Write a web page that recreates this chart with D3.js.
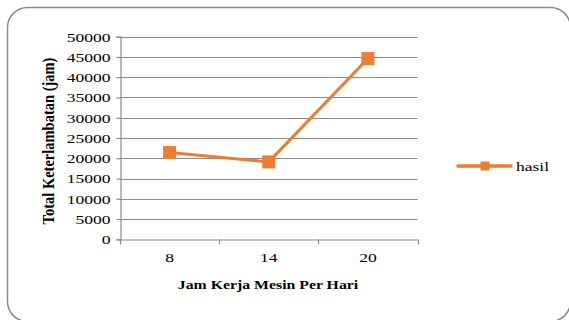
<!DOCTYPE html>
<html>
<head>
<meta charset="utf-8">
<script src="https://cdn.jsdelivr.net/npm/d3@7"></script>
<style>
	body { margin: 0; background: #fff; }
</style>
</head>
<body>
<div id="chart"></div>
<script>
var categories = ["8", "14", "20"]
var hasil = [21400, 19100, 44600]
var yTicks = [0, 5000, 10000, 15000, 20000, 25000, 30000, 35000, 40000, 45000, 50000]
var seriesName = "hasil"

var WIDTH = 569, HEIGHT = 320
var ORANGE = "#ED7D31", GRID = "#8c8c8c"
var FONT = '"Liberation Serif"'
var STRETCH = 1.3  // the picture is wider than the text's natural shape

var svg = d3.select("#chart").append("svg")
	.attr("width", WIDTH)
	.attr("height", HEIGHT)

// outer frame
svg.append("rect")
	.attr("x", 7.5).attr("y", 7.5)
	.attr("width", 563).attr("height", 314)
	.attr("rx", 20).attr("ry", 20)
	.attr("fill", "#fff")
	.attr("stroke", "#8a8a8a")
	.attr("stroke-width", 1.5)

var x = d3.scaleBand()
	.domain(categories)
	.range([120, 417.5])

var y = d3.scaleLinear()
	.domain([0, 50000])
	.range([239.3, 36.7])

// gridlines
svg.selectAll(".grid")
	.data(yTicks.slice(1))
	.enter()
	.append("line")
	.attr("x1", 120).attr("x2", 417.5)
	.attr("y1", function(d){ return Math.round(y(d)) + 0.5 })
	.attr("y2", function(d){ return Math.round(y(d)) + 0.5 })
	.attr("stroke", GRID)
	.attr("stroke-width", 1.2)

var yAxis = svg.append("g")
	.attr("transform", "translate(120.5,0)")
	.call(d3.axisLeft(y).tickValues(yTicks).tickSize(4).tickPadding(8).tickFormat(d3.format("d")))
yAxis.selectAll("line, path").attr("stroke", GRID).attr("stroke-width", 1.2)
yAxis.selectAll("text")
	.style("font-family", FONT)
	.style("font-size", "13.5px")
	.attr("x", -10 / STRETCH)
	.attr("transform", "scale(" + STRETCH + ",1)")

var xAxis = svg.append("g")
	.attr("transform", "translate(0," + (Math.round(y(0)) + 0.5) + ")")
	.call(d3.axisBottom(x).tickSize(0).tickPadding(13))
xAxis.select("path").attr("stroke", GRID).attr("stroke-width", 1.2)
xAxis.selectAll("text")
	.style("font-family", FONT)
	.style("font-size", "13.5px")
	.attr("transform", "scale(" + STRETCH + ",1)")

// band boundary ticks
var bounds = categories.map(function(c){ return x(c) }).concat([x.range()[1]])
xAxis.selectAll(".bound")
	.data(bounds)
	.enter()
	.append("line")
	.attr("x1", function(d){ return Math.round(d) + 0.5 })
	.attr("x2", function(d){ return Math.round(d) + 0.5 })
	.attr("y1", 0).attr("y2", 5)
	.attr("stroke", GRID)
	.attr("stroke-width", 1.2)

// axis titles
svg.append("text")
	.attr("transform", "translate(54,141) rotate(-90) scale(1,1.2)")
	.attr("text-anchor", "middle")
	.style("font-family", FONT)
	.style("font-size", "14.5px")
	.style("font-weight", "bold")
	.text("Total Keterlambatan  (jam)")

svg.append("text")
	.attr("transform", "translate(268,289) scale(1.17,1)")
	.attr("text-anchor", "middle")
	.style("font-family", FONT)
	.style("font-size", "13.5px")
	.style("font-weight", "bold")
	.text("Jam Kerja Mesin Per Hari")

// series
var line = d3.line()
	.x(function(d,i){ return x(categories[i]) + x.bandwidth()/2 })
	.y(function(d){ return y(d) })

svg.append("path")
	.datum(hasil)
	.attr("d", line)
	.attr("fill", "none")
	.attr("stroke", ORANGE)
	.attr("stroke-width", 3)
	.attr("stroke-linejoin", "round")

var M = 13
svg.selectAll(".marker")
	.data(hasil)
	.enter()
	.append("rect")
	.attr("x", function(d,i){ return x(categories[i]) + x.bandwidth()/2 - M/2 })
	.attr("y", function(d){ return y(d) - M/2 })
	.attr("width", M).attr("height", M)
	.attr("fill", ORANGE)

// legend
var legend = svg.append("g").attr("transform", "translate(458,166)")
legend.append("line")
	.attr("x1", 0).attr("x2", 53)
	.attr("y1", 0).attr("y2", 0)
	.attr("stroke", ORANGE)
	.attr("stroke-width", 3.5)
	.attr("stroke-linecap", "round")
legend.append("rect")
	.attr("x", 22.5).attr("y", -4.5)
	.attr("width", 9).attr("height", 9)
	.attr("fill", ORANGE)
legend.append("text")
	.attr("transform", "translate(58,5) scale(" + STRETCH + ",1)")
	.style("font-family", FONT)
	.style("font-size", "13.5px")
	.text(seriesName)
</script>
</body>
</html>
